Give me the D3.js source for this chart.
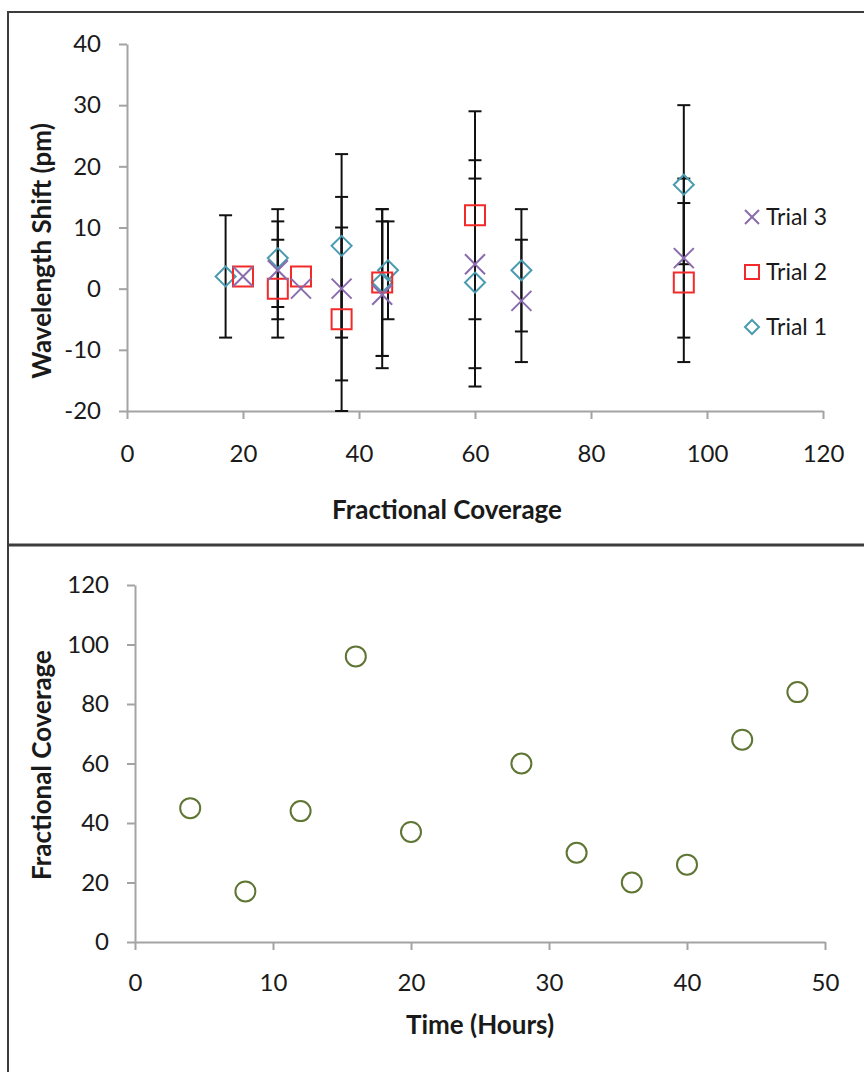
<!DOCTYPE html>
<html>
<head>
<meta charset="utf-8">
<script src="https://cdn.jsdelivr.net/npm/d3@7"></script>
<style>
body { margin: 0; background: #fff; }
svg text { font-family: Lato, "Open Sans", sans-serif; }
</style>
</head>
<body>
<div id="canvas"></div>
<script>
// ----------------------------------------------------------
// DATA -----------------------------------------------------
// ----------------------------------------------------------
// top chart: wavelength shift vs fractional coverage
var trial1_x = [17, 26, 37, 44, 45, 60, 68, 96];
var trial1_y = [2, 5, 7, 1, 3, 1, 3, 17];
var trial1_err = [10, 8, 15, 12, 8, 17, 10, 13];

var trial2_x = [20, 26, 30, 37, 44, 60, 96];
var trial2_y = [2, 0, 2, -5, 1, 12, 1];
var trial2_err = [0, 8, 0, 15, 12, 17, 13];

var trial3_x = [20, 26, 30, 37, 44, 60, 68, 96];
var trial3_y = [2, 3, 0, 0, -1, 4, -2, 5];
var trial3_err = [0, 8, 0, 15, 12, 17, 10, 13];

var top_x_ticks = [0, 20, 40, 60, 80, 100, 120];
var top_y_ticks = [-20, -10, 0, 10, 20, 30, 40];

// bottom chart: fractional coverage vs time
var time_hours = [4, 8, 12, 16, 20, 28, 32, 36, 40, 44, 48];
var coverage = [45, 17, 44, 96, 37, 60, 30, 20, 26, 68, 84];

var bottom_x_ticks = [0, 10, 20, 30, 40, 50];
var bottom_y_ticks = [0, 20, 40, 60, 80, 100, 120];

// ----------------------------------------------------------
// STRUCTURE ------------------------------------------------
// ----------------------------------------------------------
var width = 864, height = 1072;
var color_axis = "#a3a3a3";
var color_text = "#1a1a1a";
var color_t1 = "#4a9bb1";
var color_t2 = "#f22a2a";
var color_t3 = "#8a6cad";
var color_circle = "#5f7533";

var svg = d3.select("#canvas").append("svg")
  .attr("width", width)
  .attr("height", height);

// frame lines
svg.append("line").attr("x1", 8).attr("x2", width).attr("y1", 12).attr("y2", 12)
  .attr("stroke", "#3c3c3c").attr("stroke-width", 2);
svg.append("line").attr("x1", 8).attr("x2", 8).attr("y1", 11).attr("y2", height)
  .attr("stroke", "#3c3c3c").attr("stroke-width", 2);
svg.append("line").attr("x1", 8).attr("x2", width).attr("y1", 545).attr("y2", 545)
  .attr("stroke", "#3c3c3c").attr("stroke-width", 3);

// style an axis like excel (plain hyphen for negatives)
var plain = function(d) { return String(d); };
function styleAxis(g) {
  g.select(".domain").attr("stroke", color_axis).attr("stroke-width", 2);
  g.selectAll(".tick line").attr("stroke", color_axis).attr("stroke-width", 2);
  g.selectAll(".tick text").attr("fill", color_text).style("font-size", "24px")
    .style("font-family", "Lato, sans-serif");
}

// ----------------------------------------------------------
// TOP CHART ------------------------------------------------
// ----------------------------------------------------------
var xTop = d3.scaleLinear().domain([0, 120]).range([127, 823]);
var yTop = d3.scaleLinear().domain([-20, 40]).range([411, 44]);

var top_group = svg.append("g").attr("class", "top_chart");

top_group.append("g")
  .attr("transform", "translate(0," + yTop(-20) + ")")
  .call(d3.axisBottom(xTop).tickValues(top_x_ticks).tickFormat(plain)
    .tickSize(8).tickSizeOuter(0).tickPadding(26))
  .call(styleAxis);

top_group.append("g")
  .attr("transform", "translate(" + xTop(0) + ",0)")
  .call(d3.axisLeft(yTop).tickValues(top_y_ticks).tickFormat(plain)
    .tickSize(8).tickSizeOuter(0).tickPadding(18))
  .call(styleAxis);

var trials = [
  { name: "Trial 1", xs: trial1_x, ys: trial1_y, errs: trial1_err, shape: "diamond", color: color_t1 },
  { name: "Trial 2", xs: trial2_x, ys: trial2_y, errs: trial2_err, shape: "square", color: color_t2 },
  { name: "Trial 3", xs: trial3_x, ys: trial3_y, errs: trial3_err, shape: "cross", color: color_t3 }
];

function shapePath(shape, r) {
  if (shape == "diamond") return "M0," + (-r) + "L" + r + ",0L0," + r + "L" + (-r) + ",0Z";
  if (shape == "square") return "M" + (-r) + "," + (-r) + "h" + (2 * r) + "v" + (2 * r) + "h" + (-2 * r) + "Z";
  return "M" + (-r) + "," + (-r) + "L" + r + "," + r + "M" + r + "," + (-r) + "L" + (-r) + "," + r;
}

// error bars
var err_group = top_group.append("g").attr("class", "error_bars");
trials.forEach(function(t) {
  var pts = t.xs.map(function(x, i) { return { x: x, y: t.ys[i], e: t.errs[i] }; })
    .filter(function(d) { return d.e > 0; });
  var bars = err_group.selectAll(null).data(pts).enter().append("g");
  bars.append("line")
    .attr("x1", function(d) { return xTop(d.x); })
    .attr("x2", function(d) { return xTop(d.x); })
    .attr("y1", function(d) { return yTop(d.y + d.e); })
    .attr("y2", function(d) { return yTop(d.y - d.e); });
  bars.append("line")
    .attr("x1", function(d) { return xTop(d.x) - 6.5; })
    .attr("x2", function(d) { return xTop(d.x) + 6.5; })
    .attr("y1", function(d) { return yTop(d.y + d.e); })
    .attr("y2", function(d) { return yTop(d.y + d.e); });
  bars.append("line")
    .attr("x1", function(d) { return xTop(d.x) - 6.5; })
    .attr("x2", function(d) { return xTop(d.x) + 6.5; })
    .attr("y1", function(d) { return yTop(d.y - d.e); })
    .attr("y2", function(d) { return yTop(d.y - d.e); });
});
err_group.selectAll("line").attr("stroke", "#111").attr("stroke-width", 2);

// markers
trials.forEach(function(t) {
  var pts = t.xs.map(function(x, i) { return { x: x, y: t.ys[i] }; });
  top_group.append("g").selectAll("path").data(pts).enter().append("path")
    .attr("transform", function(d) { return "translate(" + xTop(d.x) + "," + yTop(d.y) + ")"; })
    .attr("d", shapePath(t.shape, 10))
    .attr("fill", "none")
    .attr("stroke", t.color)
    .attr("stroke-width", 2);
});

// legend
var legend = top_group.append("g").attr("class", "legend");
var legend_items = legend.selectAll("g").data(trials.slice().reverse()).enter().append("g")
  .attr("transform", function(d, i) { return "translate(752," + (217 + i * 55) + ")"; });
legend_items.append("path")
  .attr("d", function(d) { return shapePath(d.shape, 7); })
  .attr("fill", "none")
  .attr("stroke", function(d) { return d.color; })
  .attr("stroke-width", 2);
legend_items.append("text")
  .attr("x", 14)
  .attr("dy", "0.35em")
  .style("font-size", "23px")
  .attr("fill", color_text)
  .text(function(d) { return d.name; });

// axis titles
top_group.append("text")
  .attr("x", 447).attr("y", 519)
  .attr("text-anchor", "middle")
  .style("font-size", "26px").style("font-weight", "bold")
  .attr("fill", color_text)
  .text("Fractional Coverage");
top_group.append("text")
  .attr("transform", "translate(51,251) rotate(-90)")
  .attr("text-anchor", "middle")
  .style("font-size", "26px").style("font-weight", "bold")
  .attr("fill", color_text)
  .text("Wavelength Shift (pm)");

// ----------------------------------------------------------
// BOTTOM CHART ---------------------------------------------
// ----------------------------------------------------------
var xBot = d3.scaleLinear().domain([0, 50]).range([135, 825]);
var yBot = d3.scaleLinear().domain([0, 120]).range([942, 585]);

var bottom_group = svg.append("g").attr("class", "bottom_chart");

bottom_group.append("g")
  .attr("transform", "translate(0," + yBot(0) + ")")
  .call(d3.axisBottom(xBot).tickValues(bottom_x_ticks).tickFormat(plain)
    .tickSize(8).tickSizeOuter(0).tickPadding(24))
  .call(styleAxis);

bottom_group.append("g")
  .attr("transform", "translate(" + xBot(0) + ",0)")
  .call(d3.axisLeft(yBot).tickValues(bottom_y_ticks).tickFormat(plain)
    .tickSize(8).tickSizeOuter(0).tickPadding(18))
  .call(styleAxis);

bottom_group.append("g").selectAll("circle")
  .data(time_hours.map(function(t, i) { return { x: t, y: coverage[i] }; }))
  .enter().append("circle")
  .attr("cx", function(d) { return xBot(d.x); })
  .attr("cy", function(d) { return yBot(d.y); })
  .attr("r", 10)
  .attr("fill", "none")
  .attr("stroke", color_circle)
  .attr("stroke-width", 2);

bottom_group.append("text")
  .attr("x", 480).attr("y", 1034)
  .attr("text-anchor", "middle")
  .style("font-size", "26px").style("font-weight", "bold")
  .attr("fill", color_text)
  .text("Time (Hours)");
bottom_group.append("text")
  .attr("transform", "translate(51,765) rotate(-90)")
  .attr("text-anchor", "middle")
  .style("font-size", "26px").style("font-weight", "bold")
  .attr("fill", color_text)
  .text("Fractional Coverage");
</script>
</body>
</html>
